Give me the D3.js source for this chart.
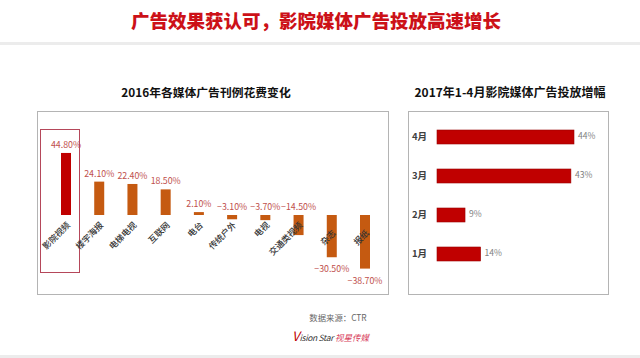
<!DOCTYPE html>
<html><head><meta charset="utf-8">
<script src="https://cdn.jsdelivr.net/npm/d3@7/dist/d3.min.js"></script>
<style>
html,body{margin:0;padding:0;background:#fff;}
svg{display:block;font-family:"Noto Sans CJK SC","Noto Sans",sans-serif;}
</style></head>
<body>
<svg id="c" width="640" height="358"></svg>
<script>
// ---- data ----
const mainTitle = "广告效果获认可，影院媒体广告投放高速增长";
const leftTitle = "2016年各媒体广告刊例花费变化";
const rightTitle = "2017年1-4月影院媒体广告投放增幅";
const mediaCategories = ["影院视频","楼宇海报","电梯电视","互联网","电台","传统户外","电视","交通类视频","杂志","报纸"];
const mediaChange = [44.8, 24.1, 22.4, 18.5, 2.1, -3.1, -3.7, -14.5, -30.5, -38.7];
const months = ["4月","3月","2月","1月"];
const monthGrowth = [44, 43, 9, 14];
const sourceText = "数据来源：CTR";

const svg = d3.select("#c");

// header
svg.append("rect").attr("x",0).attr("y",0).attr("width",640).attr("height",42).attr("fill","#fff");
svg.append("rect").attr("x",0).attr("y",42).attr("width",640).attr("height",3).attr("fill","#ececec");
svg.append("text").attr("x",316).attr("y",28).attr("text-anchor","middle")
  .attr("font-size",18.5).attr("font-weight",900).attr("fill","#cc1118").text(mainTitle);

// ---- left chart ----
svg.append("text").attr("x",206).attr("y",97).attr("text-anchor","middle")
  .attr("font-size",11.8).attr("font-weight",700).attr("fill","#111").text(leftTitle);
svg.append("rect").attr("x",37.5).attr("y",111.5).attr("width",351).attr("height",183)
  .attr("fill","none").attr("stroke","#b4b4b4").attr("stroke-width",1);

const x = d3.scalePoint().domain(mediaCategories).range([66, 365]);
const y = d3.scaleLinear().domain([-40, 50]).range([215 + 40*1.385, 215 - 50*1.385]);
const bw = 10;
const lg = svg.append("g");

// highlight box around first category
lg.append("rect").attr("x", x(mediaCategories[0]) - 25.5).attr("y",129.5)
  .attr("width",39).attr("height",143).attr("fill","none").attr("stroke","#b5475a").attr("stroke-width",1);

const data = mediaCategories.map((c,i)=>({c, v: mediaChange[i], i}));
lg.selectAll(".bar").data(data).join("rect")
  .attr("x", d => x(d.c) - bw/2)
  .attr("y", d => Math.min(y(d.v), y(0)))
  .attr("width", bw)
  .attr("height", d => Math.abs(y(d.v) - y(0)))
  .attr("fill", d => d.i === 0 ? "#c00000" : "#c55a11");

lg.selectAll(".val").data(data).join("text")
  .attr("x", d => x(d.c))
  .attr("y", d => d.v > -20 ? Math.min(y(d.v), y(0)) - 5 : y(d.v) + 15)
  .attr("text-anchor","middle").attr("font-size",8.8).attr("fill","#c0504d")
  .text(d => d3.format(".2f")(d.v) + "%");

lg.selectAll(".cat").data(data).join("text")
  .attr("transform", d => `translate(${x(d.c)+3},${y(0)+ (d.v < -20 ? 17 : 9)}) rotate(-45)`)
  .attr("text-anchor","end").attr("dominant-baseline","middle")
  .attr("font-size",8.6).attr("font-weight",500).attr("fill","#333").text(d => d.c);

// ---- right chart ----
svg.append("text").attr("x",510).attr("y",97).attr("text-anchor","middle")
  .attr("font-size",12).attr("font-weight",700).attr("fill","#111").text(rightTitle);
svg.append("rect").attr("x",408.5).attr("y",111.5).attr("width",200).attr("height",183)
  .attr("fill","none").attr("stroke","#b4b4b4").attr("stroke-width",1);

const yr = d3.scalePoint().domain(months).range([137, 254]);
const xr = d3.scaleLinear().domain([0, 44]).range([437, 574]);
const rdata = months.map((m,i)=>({m, v: monthGrowth[i]}));
const rg = svg.append("g");
rg.selectAll("rect").data(rdata).join("rect")
  .attr("x", xr(0)).attr("y", d => yr(d.m) - 7)
  .attr("width", d => xr(d.v) - xr(0)).attr("height", 14)
  .attr("fill","#c00000").attr("stroke","#9a0000").attr("stroke-width",0.6);
rg.selectAll(".v").data(rdata).join("text")
  .attr("x", d => xr(d.v) + 4).attr("y", d => yr(d.m)).attr("dominant-baseline","middle")
  .attr("font-size",8.6).attr("fill","#7f7f7f").text(d => d.v + "%");
rg.selectAll(".m").data(rdata).join("text")
  .attr("x", 412).attr("y", d => yr(d.m)).attr("dominant-baseline","middle")
  .attr("font-size",9.5).attr("font-weight",700).attr("fill","#404040").text(d => d.m);

// ---- footer ----
svg.append("text").attr("x",338).attr("y",321).attr("text-anchor","middle")
  .attr("font-size",8.4).attr("fill","#666").text(sourceText);
const logo = svg.append("text").attr("x",292).attr("y",341).attr("font-size",8.5);
logo.append("tspan").attr("fill","#c00000").attr("font-size",13).attr("font-style","italic").text("V");
logo.append("tspan").attr("fill","#333").attr("font-style","italic").attr("letter-spacing",-0.3).text("ision Star ");
logo.append("tspan").attr("fill","#d8405a").attr("font-style","italic").text("视星传媒");
svg.append("rect").attr("x",0).attr("y",355).attr("width",640).attr("height",3).attr("fill","#ececec");
</script>
</body></html>
